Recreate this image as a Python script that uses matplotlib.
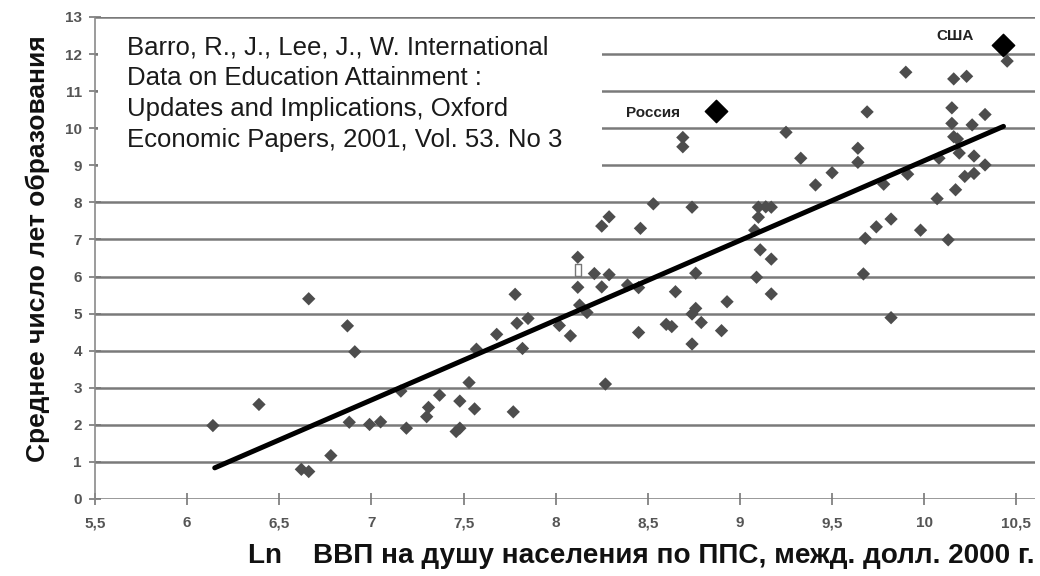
import numpy as np
import matplotlib
matplotlib.use("Agg")
import matplotlib.pyplot as plt
from matplotlib.patches import Rectangle

# country points: ln GDP per capita (PPP) vs mean years of schooling
gdp_ln = [6.14, 6.39, 6.62, 6.66, 6.66, 6.78, 6.87, 6.88, 6.91, 6.99,
          7.05, 7.16, 7.19, 7.30, 7.31, 7.37, 7.46, 7.48, 7.48, 7.53,
          7.56, 7.57, 7.68, 7.77, 7.78, 7.79, 7.82, 7.85, 8.02, 8.08,
          8.12, 8.12, 8.13, 8.17, 8.21, 8.25, 8.25, 8.27, 8.29, 8.29,
          8.39, 8.45, 8.45, 8.46, 8.53, 8.60, 8.63, 8.65, 8.69, 8.69,
          8.74, 8.74, 8.74, 8.76, 8.76, 8.79, 8.90, 8.93, 9.08, 9.09,
          9.10, 9.10, 9.11, 9.14, 9.17, 9.17, 9.17, 9.25, 9.33, 9.41,
          9.50, 9.64, 9.64, 9.67, 9.68, 9.69, 9.74, 9.78, 9.82, 9.82,
          9.90, 9.91, 9.98, 10.07, 10.08, 10.13, 10.15, 10.15, 10.16, 10.16,
          10.17, 10.18, 10.19, 10.22, 10.23, 10.26, 10.27, 10.27, 10.33, 10.33,
          10.45]
school_years = [1.98, 2.55, 0.80, 0.74, 5.40, 1.17, 4.67, 2.07, 3.97, 2.01,
                2.08, 2.91, 1.91, 2.22, 2.47, 2.80, 1.82, 1.91, 2.64, 3.14,
                2.43, 4.04, 4.44, 2.35, 5.52, 4.74, 4.06, 4.87, 4.68, 4.40,
                6.52, 5.71, 5.23, 5.03, 6.08, 5.72, 7.36, 3.10, 6.05, 7.61,
                5.77, 5.70, 4.49, 7.30, 7.96, 4.71, 4.65, 5.59, 9.75, 9.50,
                7.87, 4.99, 4.18, 6.09, 5.14, 4.76, 4.54, 5.32, 7.25, 5.98,
                7.87, 7.60, 6.72, 7.88, 7.87, 6.47, 5.53, 9.89, 9.19, 8.47,
                8.80, 9.46, 9.08, 6.07, 7.03, 10.44, 7.34, 8.49, 7.55, 4.89,
                11.51, 8.76, 7.25, 8.10, 9.19, 6.99, 10.55, 10.13, 11.33, 9.77,
                8.34, 9.71, 9.33, 8.70, 11.40, 10.09, 9.25, 8.78, 10.37, 9.01,
                11.81]

# highlighted countries
hl_names = ["Россия", "США"]
hl_x = [8.87, 10.43]
hl_y = [10.46, 12.25]

# odd hollow marker in the source
hollow_x = [8.12]
hollow_y = [6.18]

# regression line
fit_x = [6.15, 10.43]
fit_y = [0.84, 10.05]

xticks = [5.5, 6, 6.5, 7, 7.5, 8, 8.5, 9, 9.5, 10, 10.5]
xticklabels = ["5,5", "6", "6,5", "7", "7,5", "8", "8,5", "9", "9,5", "10", "10,5"]
yticks = list(range(0, 14))

source = ("Barro, R., J., Lee, J., W. International\n"
          "Data on Education Attainment :\n"
          "Updates and Implications, Oxford\n"
          "Economic Papers, 2001, Vol. 53. No 3")

plt.rcParams["font.family"] = ["Liberation Sans", "DejaVu Sans"]

fig = plt.figure(figsize=(10.4, 5.76), dpi=100)
ax = fig.add_axes([0.0913, 0.1337, 0.9037, 0.8368])

ax.set_xlim(5.5, 10.6)
ax.set_ylim(0, 13)

for sp in ["top", "right", "bottom"]:
    ax.spines[sp].set_visible(False)
ax.spines["left"].set_color("#8a8a8a")
ax.spines["left"].set_linestyle((0, (2, 1)))
ax.spines["left"].set_linewidth(1.2)

for y in yticks:
    ax.axhline(y, color="#7a7a7a", lw=1.8, zorder=1)

# white box behind the citation hides the grid there
ax.add_patch(Rectangle((0.003, 0.655), 0.537, 0.315, transform=ax.transAxes,
                       facecolor="white", edgecolor="none", zorder=2))
ax.text(0.034, 0.962, source, transform=ax.transAxes, ha="left", va="top",
        fontsize=18.5, color="#1a1a1a", linespacing=1.36, zorder=3)

ax.scatter(gdp_ln, school_years, marker="D", s=46, color="#4d4d4d",
           edgecolors="none", zorder=4)
ax.plot(fit_x, fit_y, color="black", lw=3.6, solid_capstyle="round", zorder=5)
ax.scatter(hollow_x, hollow_y, marker=[(-0.45, -1), (0.45, -1), (0.45, 1), (-0.45, 1), (-0.45, -1)],
           s=70, facecolor="white", edgecolor="#777777", lw=1.0, zorder=6)
ax.scatter(hl_x, hl_y, marker="D", s=130, color="black", zorder=6)

ax.annotate(hl_names[0], (hl_x[0], hl_y[0]), xytext=(-45, -1), textcoords="offset points",
            ha="center", va="center", fontsize=11, fontweight="bold", color="#222222")
ax.annotate(hl_names[1], (hl_x[1], hl_y[1]), xytext=(-35, 6.5), textcoords="offset points",
            ha="center", va="center", fontsize=11, fontweight="bold", color="#222222")

ax.set_xticks(xticks)
ax.set_xticklabels(xticklabels)
ax.set_yticks(yticks)
ax.tick_params(axis="both", direction="inout", length=9, width=1.2, color="#777777",
               labelcolor="#555555", labelsize=11)
ax.tick_params(axis="x", pad=8)
ax.tick_params(axis="y", pad=5)
for lab in ax.get_xticklabels() + ax.get_yticklabels():
    lab.set_fontweight("bold")

ax.set_ylabel("Среднее число лет образования", fontsize=19, fontweight="bold",
              color="#111111")
ax.yaxis.set_label_coords(-0.048, 0.52)
xl = ax.set_xlabel("Ln    ВВП на душу населения по ППС, межд. долл. 2000 г.",
                   fontsize=18, fontweight="bold", color="#111111")
ax.xaxis.set_label_coords(0.581, -0.092)

# fit the x label to the width it has in the source (about 787 px)
fig.canvas.draw()
w = xl.get_window_extent().width
xl.set_fontsize(18 * 787.0 / w)

fig.savefig("out.png", dpi=100)
